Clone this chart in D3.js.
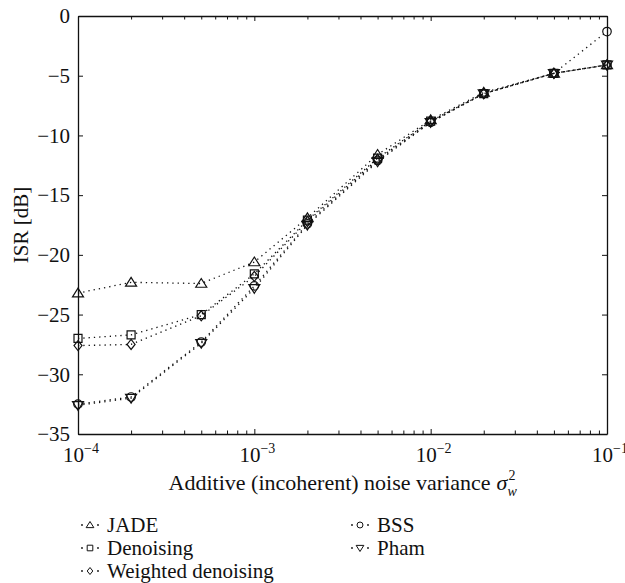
<!DOCTYPE html>
<html lang="en">
  <head>
    <meta charset="UTF-8" />
    <title>ISR vs noise variance</title>
    <style>
      body { margin: 0; background: #fff; }
      svg text { font-family: "Liberation Serif", "Times New Roman", Times, "DejaVu Serif", serif; fill: #111; }
    </style>
  </head>
  <body>
    <svg width="625" height="583"></svg>
    <script src="https://cdnjs.cloudflare.com/ajax/libs/d3/7.8.5/d3.min.js"></script>
    <script>
      // values
      var noiseVar = [1e-4, 2e-4, 5e-4, 1e-3, 2e-3, 5e-3, 1e-2, 2e-2, 5e-2, 1e-1];
      var jade = [-23.2, -22.3, -22.4, -20.6, -16.9, -11.6, -8.7, -6.4, -4.8, -4.1];
      var denoising = [-27.0, -26.7, -25.0, -21.6, -17.1, -11.9, -8.8, -6.5, -4.8, -4.1];
      var weighted = [-27.6, -27.5, -25.1, -21.8, -17.2, -12.0, -8.8, -6.5, -4.8, -4.1];
      var bss = [-32.5, -31.9, -27.3, -22.6, -17.4, -12.1, -8.9, -6.5, -4.8, -1.3];
      var pham = [-32.6, -32.0, -27.4, -22.8, -17.5, -12.2, -8.9, -6.5, -4.8, -4.1];

      var seriesNames = ["JADE", "Denoising", "Weighted denoising", "BSS", "Pham"];
      var seriesMarkers = ["triangle", "square", "diamond", "circle", "triangleDown"];
      var yTicks = [0, -5, -10, -15, -20, -25, -30, -35];
      var xTickExp = [-4, -3, -2, -1];

      var svg = d3.select("svg");
      var pl = 78, pr = 607, pt = 16, pb = 434;
      var serif = '"Liberation Serif", "Times New Roman", Times, serif';

      var x = d3.scaleLog().domain([1e-4, 1e-1]).range([pl, pr]);
      var y = d3.scaleLinear().domain([-35, 0]).range([pb, pt]);

      function markerPath(kind, s) {
        var h = s / 2;
        if (kind == "triangle")
          return "M0," + (-h) + "L" + (h * 1.1) + "," + (h * 0.75) + "L" + (-h * 1.1) + "," + (h * 0.75) + "Z";
        if (kind == "triangleDown")
          return "M0," + h + "L" + (h * 1.1) + "," + (-h * 0.75) + "L" + (-h * 1.1) + "," + (-h * 0.75) + "Z";
        if (kind == "square")
          return "M" + (-h * 0.8) + "," + (-h * 0.8) + "h" + (s * 0.8) + "v" + (s * 0.8) + "h" + (-s * 0.8) + "Z";
        if (kind == "diamond")
          return "M0," + (-h) + "L" + (h * 0.8) + ",0L0," + h + "L" + (-h * 0.8) + ",0Z";
        var r = h * 0.85;
        return "M" + r + ",0A" + r + "," + r + " 0 1,1 " + (-r) + ",0A" + r + "," + r + " 0 1,1 " + r + ",0Z";
      }

      var data = [jade, denoising, weighted, bss, pham].map(function (vals, i) {
        return {
          name: seriesNames[i],
          marker: seriesMarkers[i],
          points: vals.map(function (v, j) { return { x: noiseVar[j], y: v }; }),
        };
      });

      // axes box with inward ticks
      var g = svg.append("g");
      g.append("g")
        .attr("transform", "translate(0," + pb + ")")
        .call(d3.axisBottom(x).tickSizeInner(-5).tickSizeOuter(0).tickFormat(""));
      g.append("g")
        .attr("transform", "translate(0," + pt + ")")
        .call(d3.axisTop(x).tickSizeInner(-5).tickSizeOuter(0).tickFormat(""));
      g.append("g")
        .attr("transform", "translate(" + pl + ",0)")
        .call(d3.axisLeft(y).tickValues(yTicks).tickSizeInner(-5).tickSizeOuter(0).tickFormat(""));
      g.append("g")
        .attr("transform", "translate(" + pr + ",0)")
        .call(d3.axisRight(y).tickValues(yTicks).tickSizeInner(-5).tickSizeOuter(0).tickFormat(""));

      g.selectAll(".tick line").attr("stroke", "#111").attr("stroke-width", 1);
      g.selectAll(".domain").attr("stroke", "#111").attr("stroke-width", 1.3);
      // minor log ticks are shorter
      g.selectAll("g.tick").each(function (d) {
        if (d > 0 && d < 1) {
          var lg = Math.log10(d);
          var isMajor = Math.abs(lg - Math.round(lg)) < 1e-9;
          var ln = d3.select(this).select("line");
          var cur = +ln.attr("y2");
          if (!isMajor) ln.attr("y2", cur > 0 ? 3.5 : -3.5);
        }
      });

      // y tick labels
      g.selectAll(".ylab")
        .data(yTicks)
        .enter()
        .append("text")
        .attr("x", pl - 8)
        .attr("y", function (d) { return y(d); })
        .attr("dy", "0.35em")
        .attr("text-anchor", "end")
        .attr("font-family", serif)
        .style("font-size", "21px")
        .text(function (d) { return d == 0 ? "0" : "\u2212" + Math.abs(d); });

      // x tick labels 10^n
      var xl = g.selectAll(".xlab")
        .data(xTickExp)
        .enter()
        .append("text")
        .attr("x", function (d) { return x(Math.pow(10, d)) + 3; })
        .attr("y", pb + 28)
        .attr("text-anchor", "middle")
        .attr("font-family", serif)
        .style("font-size", "21px");
      xl.append("tspan").text("10");
      xl.append("tspan")
        .attr("dy", -9)
        .style("font-size", "14px")
        .text(function (d) { return "\u2212" + Math.abs(d); });

      // y axis title
      svg.append("text")
        .attr("transform", "translate(28," + y(-17.5) + ") rotate(-90)")
        .attr("text-anchor", "middle")
        .attr("font-family", serif)
        .style("font-size", "21px")
        .text("ISR [dB]");

      // x axis title with sigma_w^2
      var xt = svg.append("g").attr("font-family", serif);
      var t1 = xt.append("text").attr("y", 490).style("font-size", "22px")
        .text("Additive (incoherent) noise variance");
      var w1 = t1.node().getComputedTextLength() + 6;
      var sig = xt.append("text").attr("x", w1).attr("y", 490)
        .style("font-size", "22px").style("font-style", "italic").text("\u03c3");
      var w2 = sig.node().getComputedTextLength();
      xt.append("text").attr("x", w1 + w2 + 1).attr("y", 480)
        .style("font-size", "14px").text("2");
      xt.append("text").attr("x", w1 + w2).attr("y", 496)
        .style("font-size", "14px").style("font-style", "italic").text("w");
      var total = w1 + w2 + 9;
      xt.attr("transform", "translate(" + ((pl + pr) / 2 - total / 2) + ",0)");

      // dotted lines
      var line = d3.line()
        .x(function (d) { return x(d.x); })
        .y(function (d) { return y(d.y); });

      svg.append("g")
        .selectAll("path")
        .data(data)
        .enter()
        .append("path")
        .attr("d", function (d) { return line(d.points); })
        .attr("fill", "none")
        .attr("stroke", "#111")
        .attr("stroke-width", 1.3)
        .attr("stroke-dasharray", "1.3,4");

      // markers
      data.forEach(function (s) {
        svg.append("g")
          .selectAll("path")
          .data(s.points)
          .enter()
          .append("path")
          .attr("transform", function (d) { return "translate(" + x(d.x) + "," + y(d.y) + ")"; })
          .attr("d", markerPath(s.marker, 10))
          .attr("fill", "none")
          .attr("stroke", "#111")
          .attr("stroke-width", 1.2);
      });

      // legend
      var legendPos = [[90, 525], [90, 548], [90, 571], [360, 525], [360, 548]];
      var leg = svg.append("g")
        .selectAll("g")
        .data(data)
        .enter()
        .append("g")
        .attr("transform", function (d, i) { return "translate(" + legendPos[i][0] + "," + legendPos[i][1] + ")"; });
      leg.append("circle").attr("cx", -8).attr("r", 0.9).attr("fill", "#111");
      leg.append("circle").attr("cx", 8).attr("r", 0.9).attr("fill", "#111");
      leg.append("path")
        .attr("d", function (d) { return markerPath(d.marker, 7); })
        .attr("fill", "none")
        .attr("stroke", "#111")
        .attr("stroke-width", 1);
      leg.append("text")
        .attr("x", 17)
        .attr("dy", "0.35em")
        .attr("font-family", serif)
        .style("font-size", "21px")
        .text(function (d) { return d.name; });
    </script>
  </body>
</html>
